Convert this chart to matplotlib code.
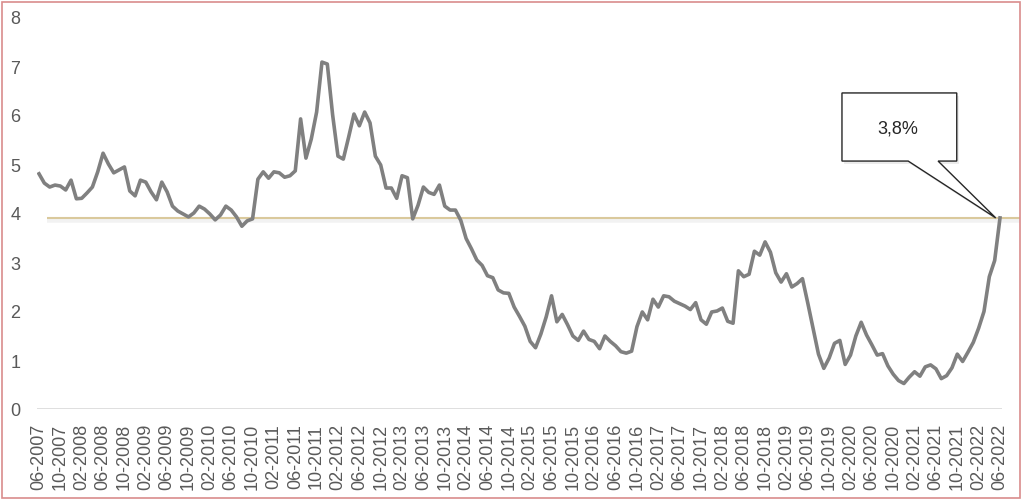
import matplotlib
matplotlib.use("Agg")
import matplotlib.pyplot as plt
from matplotlib.patches import Rectangle, Polygon
import numpy as np

# Monthly values, 06-2007 .. 06-2022
values = [
    4.80, 4.61, 4.53, 4.57, 4.55, 4.47, 4.67, 4.29, 4.30, 4.41,
    4.53, 4.84, 5.22, 5.00, 4.82, 4.88, 4.94, 4.45, 4.35, 4.67,
    4.63, 4.43, 4.27, 4.63, 4.43, 4.14, 4.04, 3.98, 3.92, 4.00,
    4.14, 4.08, 3.98, 3.86, 3.96, 4.14, 4.06, 3.92, 3.73, 3.84,
    3.88, 4.69, 4.84, 4.71, 4.84, 4.82, 4.73, 4.76, 4.86, 5.92,
    5.12, 5.51, 6.06, 7.08, 7.04, 6.00, 5.16, 5.10, 5.55, 6.02,
    5.78, 6.06, 5.84, 5.16, 4.98, 4.51, 4.51, 4.30, 4.76, 4.72,
    3.88, 4.16, 4.53, 4.42, 4.38, 4.57, 4.14, 4.06, 4.06, 3.85,
    3.48, 3.27, 3.04, 2.93, 2.72, 2.68, 2.43, 2.37, 2.36, 2.08,
    1.89, 1.69, 1.38, 1.25, 1.53, 1.88, 2.31, 1.78, 1.93, 1.72,
    1.49, 1.40, 1.59, 1.42, 1.38, 1.23, 1.49, 1.38, 1.29, 1.17,
    1.14, 1.18, 1.68, 1.98, 1.82, 2.24, 2.08, 2.31, 2.29, 2.20,
    2.15, 2.10, 2.03, 2.17, 1.82, 1.73, 1.98, 2.00, 2.06, 1.79,
    1.75, 2.82, 2.70, 2.75, 3.22, 3.14, 3.41, 3.20, 2.78, 2.59,
    2.76, 2.49, 2.56, 2.66, 2.16, 1.64, 1.12, 0.83, 1.04, 1.34,
    1.40, 0.91, 1.10, 1.49, 1.77, 1.51, 1.31, 1.10, 1.13, 0.88,
    0.71, 0.58, 0.52, 0.65, 0.76, 0.67, 0.86, 0.90, 0.82, 0.62,
    0.68, 0.84, 1.12, 0.97, 1.16, 1.36, 1.65, 1.99, 2.70, 3.03,
    3.90,
]
tick_labels = []
m, y = 6, 2007
while (y, m) <= (2022, 6):
    tick_labels.append(f"{m:02d}-{y}")
    m += 4
    if m > 12:
        m -= 12
        y += 1
reference_level = 3.9
annotation_text = "3,8%"

plt.rcParams['font.family'] = ['Liberation Sans', 'DejaVu Sans']

W, H = 1024, 502
fig = plt.figure(figsize=(W / 100, H / 100), dpi=100)
ax = fig.add_axes([37 / W, (H - 410) / H, 965 / W, 392 / H])

x = np.arange(len(values))
ax.set_xlim(-0.375, len(values) - 1 + 0.375)
ax.set_ylim(0, 8)

# reference line with faint shadow
ax.plot([1.5, 183.7], [reference_level - 0.045, reference_level - 0.045],
        color="#000000", alpha=0.05, lw=4, clip_on=False, solid_capstyle="butt", zorder=2)
ax.plot([1.5, 183.7], [reference_level, reference_level],
        color="#dac99c", lw=1.5, clip_on=False, solid_capstyle="butt", zorder=3)

ax.plot(x, values, color="#808080", lw=2.6, zorder=4)

# baseline
ax.axhline(0, color="#d9d9d9", lw=1.2, zorder=1)

for s in ax.spines.values():
    s.set_visible(False)
ax.set_yticks(range(0, 9))
ax.set_yticklabels([str(v) for v in range(0, 9)])
ax.set_xticks(x[::4])
ax.set_xticklabels(tick_labels, rotation=90)
ax.tick_params(axis="both", length=0, colors="#595959", labelsize=13)
ax.tick_params(axis="y", pad=12)
ax.tick_params(axis="x", pad=10)

# callout
x0, x1, yb, yt = 150.4, 171.9, 5.06, 6.45
tip = (179.2, reference_level)
pts = [(x0, yt), (x1, yt), (x1, yb), (168.4, yb), tip, (162.8, yb), (x0, yb)]
shadow = Polygon([(px + 0.4, py - 0.06) for px, py in pts], closed=True,
                 facecolor="#000000", alpha=0.08, edgecolor="none", zorder=5, clip_on=False)
ax.add_patch(shadow)
ax.add_patch(Polygon(pts, closed=True, facecolor="white", edgecolor="#262626",
                     lw=1.0, zorder=6, clip_on=False))
ax.text(160.9, 5.73, annotation_text, ha="center", va="center", fontsize=13,
        color="#262626", zorder=7)

# figure border
fig.add_artist(Rectangle((2 / W, 3 / H), 1018 / W, 496 / H, transform=fig.transFigure,
                         fill=False, edgecolor="#d98c8c", lw=1.2))

fig.savefig("out.png", dpi=100)
